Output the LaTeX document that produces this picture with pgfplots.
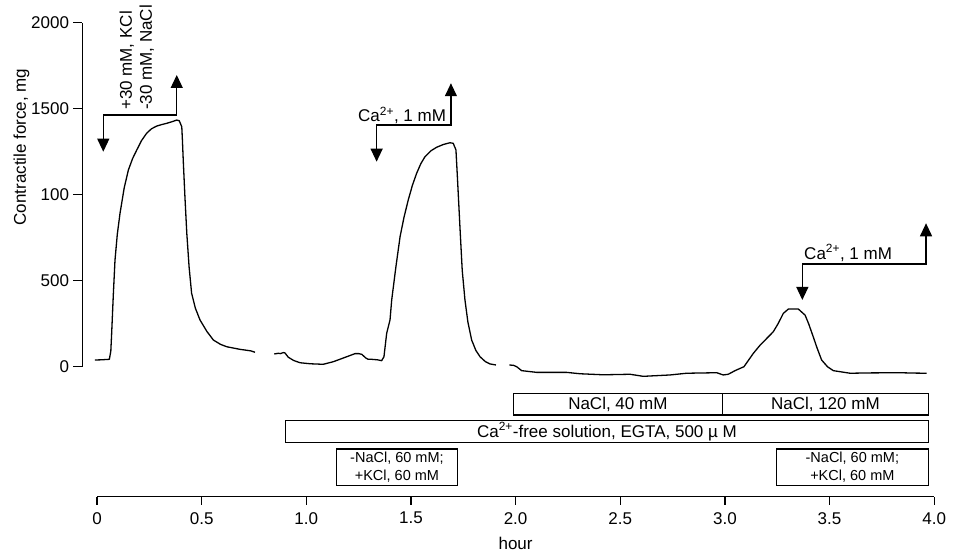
\documentclass[border=0pt]{standalone}
\usepackage{fontspec}
\setmainfont{Liberation Sans}
\usepackage{pgfplots}
\pgfplotsset{compat=1.18}
\usetikzlibrary{arrows.meta}
\newcommand{\fbig}{\fontsize{17}{20}\selectfont}
\newcommand{\fsmall}{\fontsize{14.5}{17.7}\selectfont}
\begin{document}
\begin{tikzpicture}
\begin{axis}[
  width=851.7pt, height=344pt, scale only axis,
  xmin=-0.0693, xmax=4.0, ymin=0, ymax=2000,
  clip=false,
  axis x line=none, axis y line=left,
  axis line style={-, line width=1.2pt},
  ytick={0,500,1000,1500,2000},
  yticklabels={0,500,100,1500,2000},
  tick align=outside, major tick length=9pt,
  tick style={line width=1.2pt, black},
  yticklabel style={font=\fbig, xshift=-1pt},
  ylabel={Contractile force, mg},
  every axis y label/.style={at={(axis description cs:-0.0716,0.6387)}, rotate=90, anchor=center, font=\fbig},
]
\addplot[black, line width=1.3pt, line join=round] coordinates {
(-0.01,39) (0.02,40) (0.059,43) (0.066,90) (0.070,194) (0.078,420) (0.086,620) (0.097,770) (0.110,892) (0.130,1040) (0.150,1144) (0.170,1210) (0.190,1260) (0.213,1315) (0.237,1357) (0.260,1383) (0.285,1399) (0.310,1408) (0.333,1415) (0.360,1425) (0.381,1434) (0.393,1430) (0.405,1395) (0.408,1320) (0.412,1202) (0.420,990) (0.429,776) (0.440,580) (0.452,427) (0.470,340) (0.492,272) (0.525,205) (0.556,155) (0.590,130) (0.620,116) (0.683,101) (0.735,92) (0.755,84)
};
\addplot[black, line width=1.3pt, line join=round] coordinates {
(0.847,74) (0.866,78) (0.876,76) (0.890,82) (0.898,80) (0.914,55) (0.94,36) (0.970,23) (1.02,17) (1.06,15) (1.081,14) (1.10,20) (1.129,29) (1.18,52) (1.233,76) (1.250,76) (1.265,72) (1.285,50) (1.296,43) (1.312,43) (1.340,40) (1.360,35) (1.371,58) (1.384,194) (1.400,272) (1.408,388) (1.428,580) (1.448,756) (1.467,870) (1.487,969) (1.507,1055) (1.527,1124) (1.547,1180) (1.567,1221) (1.595,1255) (1.623,1276) (1.655,1292) (1.686,1302) (1.702,1299) (1.715,1260) (1.722,1100) (1.734,814) (1.745,560) (1.758,388) (1.772,260) (1.790,155) (1.810,95) (1.830,58) (1.855,30) (1.878,16) (1.906,10)
};
\addplot[black, line width=1.3pt, line join=round] coordinates {
(1.970,10) (1.990,8) (2.005,0) (2.029,-23) (2.101,-33) (2.244,-33) (2.308,-41) (2.419,-47) (2.547,-44) (2.610,-56) (2.738,-48) (2.817,-38) (2.961,-35) (2.992,-48) (3.016,-44) (3.050,-22) (3.091,0) (3.136,78) (3.168,125) (3.231,203) (3.255,252) (3.279,310) (3.303,335) (3.351,335) (3.383,300) (3.400,250) (3.422,174) (3.440,110) (3.462,39) (3.490,0) (3.518,-23) (3.598,-38) (3.70,-36) (3.837,-35) (3.900,-37) (3.964,-38)
};
% arrows
\draw[line width=1.2pt, {Triangle[length=13pt,width=12pt]}-{Triangle[length=13pt,width=12pt]}]
  (axis cs:0.030,1250) -- (axis cs:0.030,1463) -- (axis cs:0.381,1463) -- (axis cs:0.381,1696);
\draw[line width=1.2pt, {Triangle[length=13pt,width=12pt]}-{Triangle[length=13pt,width=12pt]}]
  (axis cs:1.336,1192) -- (axis cs:1.336,1405) -- (axis cs:1.691,1405) -- (axis cs:1.691,1648);
\draw[line width=1.2pt, {Triangle[length=13pt,width=12pt]}-{Triangle[length=13pt,width=12pt]}]
  (axis cs:3.370,388) -- (axis cs:3.370,597) -- (axis cs:3.961,597) -- (axis cs:3.961,834);
\node[rotate=90, anchor=west, align=left, inner sep=0pt, font=\fbig] at (axis cs:0.190,1492) {+30 mM, KCl\\-30 mM, NaCl};
\node[anchor=base west, inner sep=0pt, font=\fbig] at (axis cs:1.247,1424) {Ca\textsuperscript{2+}, 1 mM};
\node[anchor=base west, inner sep=0pt, font=\fbig] at (axis cs:3.378,626) {Ca\textsuperscript{2+}, 1 mM};
% boxes
\draw[line width=1.2pt] (axis cs:1.989,-155) rectangle (axis cs:2.988,-281);
\draw[line width=1.2pt] (axis cs:2.988,-155) rectangle (axis cs:3.972,-281);
\draw[line width=1.2pt] (axis cs:0.901,-314) rectangle (axis cs:3.972,-442);
\draw[line width=1.2pt] (axis cs:1.145,-478) rectangle (axis cs:1.721,-693);
\draw[line width=1.2pt] (axis cs:3.246,-478) rectangle (axis cs:3.972,-693);
\node[font=\fbig] at (axis cs:2.4885,-218) {NaCl, 40 mM};
\node[font=\fbig] at (axis cs:3.48,-218) {NaCl, 120 mM};
\node[font=\fbig] at (axis cs:2.4365,-378) {Ca\textsuperscript{2+}-free solution, EGTA, 500 µ M};
\node[font=\fsmall, align=center] at (axis cs:1.433,-585.5) {-NaCl, 60 mM;\\+KCl, 60 mM};
\node[font=\fsmall, align=center] at (axis cs:3.609,-585.5) {-NaCl, 60 mM;\\+KCl, 60 mM};
\end{axis}
\begin{axis}[
  at={(14.5pt,-130pt)}, anchor=south west,
  width=837.2pt, height=10pt, scale only axis,
  xmin=0, xmax=4, ymin=0, ymax=1,
  axis x line=bottom, axis y line=none,
  axis line style={-, line width=1.2pt},
  xtick={0,0.5,1,1.5,2,2.5,3,3.5,4},
  xticklabels={0,0.5,1.0,1.5,2.0,2.5,3.0,3.5,4.0},
  tick align=outside, major tick length=8pt,
  tick style={line width=1.2pt, black},
  xticklabel style={font=\fbig, yshift=-4pt},
  xlabel={hour},
  every axis x label/.style={at={(axis description cs:0.5,0)}, anchor=center, yshift=-47pt, font=\fbig},
]
\addplot[draw=none] coordinates {(0,0)};
\end{axis}
\pgfresetboundingbox
\path (-82.5pt,-187.3pt) rectangle (874.5pt,366.7pt);
\end{tikzpicture}
\end{document}
